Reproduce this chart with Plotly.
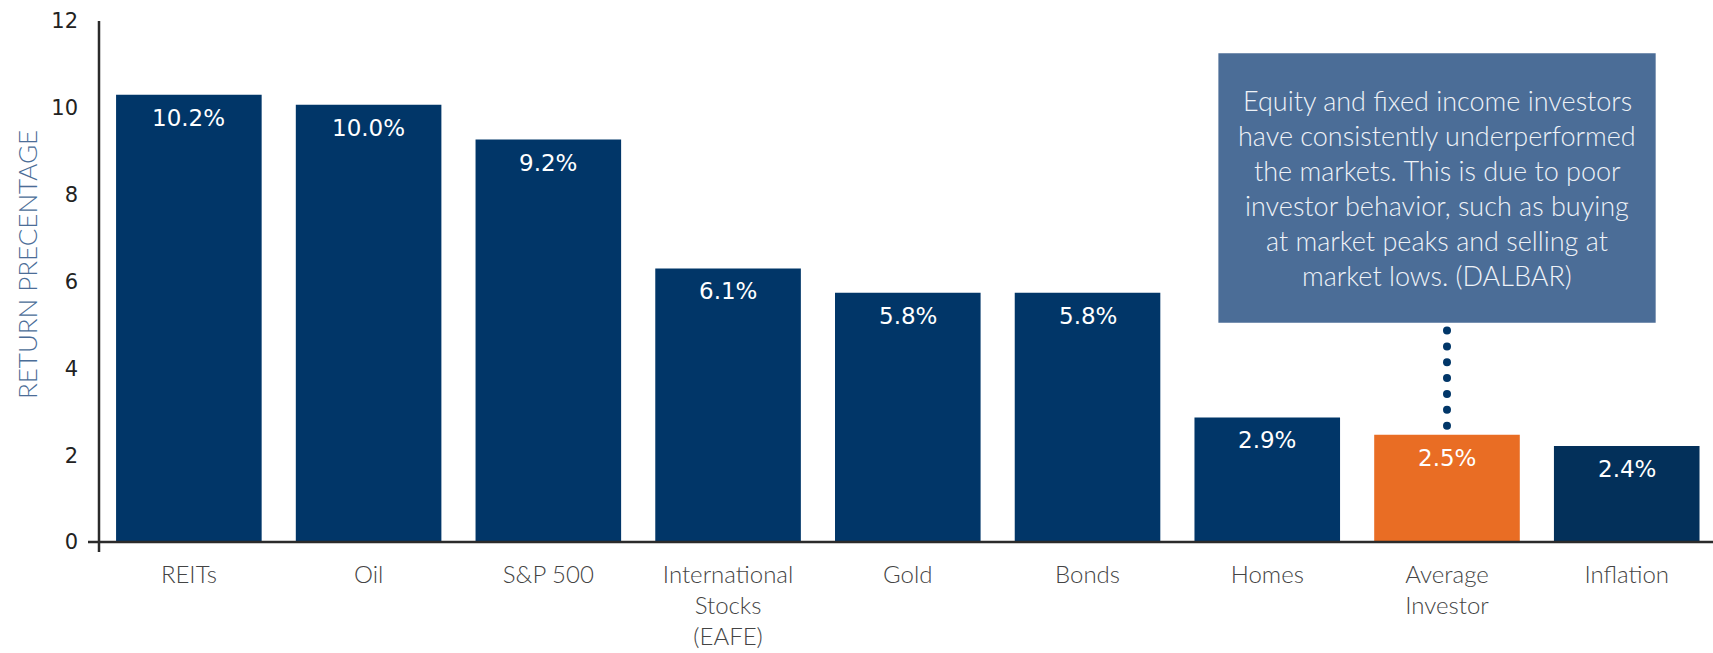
import numpy as np
import plotly.graph_objects as go

categories = ["REITs", "Oil", "S&P 500", "International<br>Stocks<br>(EAFE)", "Gold", "Bonds",
              "Homes", "Average<br>Investor", "Inflation"]
values = [10.3, 10.07, 9.27, 6.3, 5.74, 5.74, 2.87, 2.47, 2.21]
value_labels = ["10.2%", "10.0%", "9.2%", "6.1%", "5.8%", "5.8%", "2.9%", "2.5%", "2.4%"]
bar_colors = ["#013668"] * 7 + ["#E96D24", "#03305A"]
y_ticks = [0, 2, 4, 6, 8, 10, 12]
note_lines = [
    "Equity and fixed income investors",
    "have consistently underperformed",
    "the markets. This is due to poor",
    "investor behavior, such as buying",
    "at market peaks and selling at",
    "market lows. (DALBAR)",
]
highlight_index = 7

FONT = "Lato"
NUMFONT = "DejaVu Sans"
W, H = 1713, 653
ML, MR, MT, MB = 99, 0, 21, 111
PW, PH = W - ML - MR, H - MT - MB
XR = [-0.5, 8.48]
YR = [0, 12]
px_x = PW / (XR[1] - XR[0])
px_y = PH / (YR[1] - YR[0])

x = list(range(len(categories)))

fig = go.Figure()
fig.add_trace(go.Bar(
    x=x, y=values, marker=dict(color=bar_colors, line=dict(width=0)),
    width=0.81, hoverinfo="skip", showlegend=False,
))

# value labels inside bars, near the top
for xi, v, t in zip(x, values, value_labels):
    fig.add_annotation(x=xi, y=v, text=t, showarrow=False, yanchor="middle",
                       yshift=-23, font=dict(family=NUMFONT, size=23, color="white"))

# annotation box
box_x0, box_x1 = 5.728, 8.161
box_y_top, box_y_bot = 11.26, 5.05
fig.add_shape(type="rect", xref="x", yref="y", x0=box_x0, x1=box_x1,
              y0=box_y_bot, y1=box_y_top, fillcolor="#4B6D97", line=dict(width=0),
              layer="above")
line_step = 35 / px_y
first_line = box_y_top - 47 / px_y
for i, ln in enumerate(note_lines):
    fig.add_annotation(x=(box_x0 + box_x1) / 2, y=first_line - i * line_step, text=ln,
                       showarrow=False, yanchor="middle", xanchor="center",
                       font=dict(family=FONT, size=27, color="#EEF2F7", weight=300))

# dotted connector
dots_y = np.linspace(box_y_bot - 0.18, values[highlight_index] + 0.21, 7)
fig.add_trace(go.Scatter(x=[highlight_index] * len(dots_y), y=dots_y, mode="markers",
                         marker=dict(size=8, color="#013668"), hoverinfo="skip",
                         showlegend=False))

# axis lines with small overhang
fig.add_shape(type="line", xref="paper", yref="paper", x0=-11 / PW, x1=1, y0=0, y1=0,
              line=dict(color="#2B2B2B", width=2.5), layer="above")
fig.add_shape(type="line", xref="paper", yref="paper", x0=0, x1=0, y0=-10 / PH, y1=1,
              line=dict(color="#2B2B2B", width=2.5), layer="above")

# y title
fig.add_annotation(xref="paper", yref="paper", x=(27 - ML) / PW, y=(542 - 265) / PH,
                   text="RETURN PRECENTAGE", textangle=-90, showarrow=False,
                   xanchor="center", yanchor="middle",
                   font=dict(family=FONT, size=26, color="#4B6D97", weight=300))

fig.update_layout(
    width=W, height=H, margin=dict(l=ML, r=MR, t=MT, b=MB, pad=0),
    paper_bgcolor="white", plot_bgcolor="white",
    bargap=0.19,
    xaxis=dict(range=XR, tickmode="array", tickvals=x, ticktext=categories,
               showgrid=False, zeroline=False, showline=False, ticks="",
               ticklabelstandoff=16,
               tickfont=dict(family=FONT, size=24, color="#444444", weight=300)),
    yaxis=dict(range=YR, tickmode="array", tickvals=y_ticks, ticktext=[str(t) for t in y_ticks],
               showgrid=False, zeroline=False, showline=False, ticks="",
               ticklabelstandoff=20,
               tickfont=dict(family=NUMFONT, size=21, color="#222222")),
)

fig.write_html("out.html")
